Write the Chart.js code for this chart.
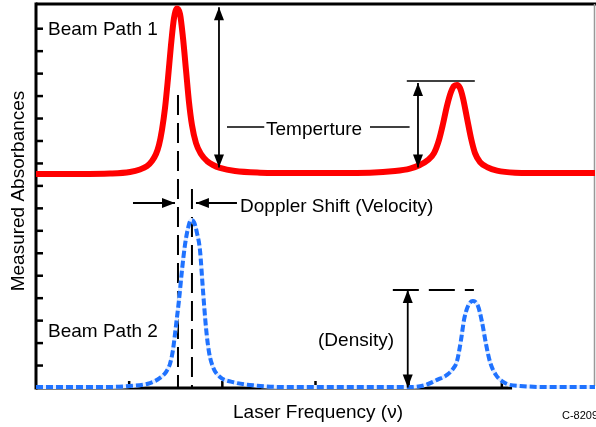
<!DOCTYPE html>
<html lang="en">
<head>
    <meta charset="UTF-8">
    <title>Beam Path Absorbance</title>
    <style>
        body { margin: 0; background: #fff; }
        #graphic { display: block; }
    </style>
    <script src="https://cdn.jsdelivr.net/npm/chart.js"></script>
</head>
<body>
    <canvas id="graphic" width="596" height="427"></canvas>
    <script>
        // laser frequency (tick units) and measured absorbance
        const freq1 = [0.000, 0.472, 0.794, 1.009, 1.116, 1.191, 1.245, 1.288, 1.320, 1.352, 1.385, 1.417, 1.449, 1.481, 1.513, 1.546, 1.578, 1.610, 1.642, 1.674, 1.717, 1.771, 1.835, 1.900, 1.975, 2.136, 2.404, 2.834, 3.585, 3.853, 4.014, 4.121, 4.207, 4.272, 4.325, 4.368, 4.411, 4.454, 4.487, 4.519, 4.551, 4.583, 4.626, 4.669, 4.712, 4.766, 4.841, 4.948, 5.141, 5.517, 6.000];
        const beam1 = [9.53, 9.53, 9.55, 9.62, 9.73, 9.88, 10.11, 10.42, 10.82, 11.49, 12.47, 13.80, 15.27, 16.47, 16.90, 16.65, 15.58, 14.16, 12.73, 11.71, 10.91, 10.42, 10.11, 9.93, 9.80, 9.66, 9.59, 9.57, 9.59, 9.66, 9.77, 9.93, 10.15, 10.46, 11.04, 11.75, 12.56, 13.18, 13.45, 13.49, 13.36, 12.91, 12.02, 11.13, 10.46, 10.06, 9.84, 9.68, 9.59, 9.57, 9.57];

        const freq2 = [0.000, 0.687, 1.009, 1.224, 1.331, 1.395, 1.438, 1.470, 1.503, 1.535, 1.567, 1.599, 1.632, 1.664, 1.696, 1.728, 1.760, 1.792, 1.825, 1.857, 1.900, 1.975, 2.104, 2.351, 2.726, 4.014, 4.175, 4.304, 4.411, 4.476, 4.519, 4.562, 4.594, 4.637, 4.690, 4.744, 4.787, 4.830, 4.873, 4.937, 5.034, 5.195, 5.624, 6.000];
        const beam2 = [0.04, 0.04, 0.09, 0.22, 0.45, 0.71, 1.07, 1.69, 2.80, 3.92, 5.25, 6.37, 7.12, 7.48, 7.39, 6.90, 6.14, 4.36, 2.67, 1.60, 0.93, 0.49, 0.27, 0.11, 0.04, 0.04, 0.13, 0.36, 0.58, 0.85, 1.20, 2.14, 3.03, 3.65, 3.87, 3.65, 2.94, 1.96, 1.16, 0.58, 0.22, 0.09, 0.04, 0.04];

        const xTicks = [1, 2, 3, 4, 5];
        const yTicks = [1, 2, 3, 4, 5, 6, 7, 8, 9, 10, 11, 12, 13, 14, 15, 16];

        const FONT = '19px "Liberation Sans", Arial, sans-serif';

        function arrowHead(ctx, x1, y1, x2, y2) {
            // filled head at (x2, y2) pointing away from (x1, y1)
            const a = Math.atan2(y2 - y1, x2 - x1);
            const len = 13, half = 5;
            ctx.beginPath();
            ctx.moveTo(x2, y2);
            ctx.lineTo(x2 - len * Math.cos(a) + half * Math.sin(a), y2 - len * Math.sin(a) - half * Math.cos(a));
            ctx.lineTo(x2 - len * Math.cos(a) - half * Math.sin(a), y2 - len * Math.sin(a) + half * Math.cos(a));
            ctx.closePath();
            ctx.fill();
        }

        function arrow(ctx, x1, y1, x2, y2, both) {
            ctx.beginPath();
            ctx.moveTo(x1, y1);
            ctx.lineTo(x2, y2);
            ctx.stroke();
            arrowHead(ctx, x1, y1, x2, y2);
            if (both) arrowHead(ctx, x2, y2, x1, y1);
        }

        function segment(ctx, x1, y1, x2, y2) {
            ctx.beginPath();
            ctx.moveTo(x1, y1);
            ctx.lineTo(x2, y2);
            ctx.stroke();
        }

        const framePlugin = {
            id: "frame",
            beforeDatasetsDraw(chart) {
                const ctx = chart.ctx;
                const xs = chart.scales.x, ys = chart.scales.y;
                const area = chart.chartArea;
                ctx.save();
                ctx.strokeStyle = "#000";
                ctx.lineCap = "butt";

                // top border and left axis
                ctx.lineWidth = 3;
                segment(ctx, area.left, area.top, area.right + 1, area.top);
                segment(ctx, area.left, area.top - 1.5, area.left, area.bottom + 1.5);
                // bottom axis stops short of the right edge
                segment(ctx, area.left, area.bottom, xs.getPixelForValue(5.11), area.bottom);
                // light right border
                ctx.strokeStyle = "#999";
                ctx.lineWidth = 1.5;
                segment(ctx, area.right - 0.5, area.top, area.right - 0.5, area.bottom - 2);

                ctx.strokeStyle = "#000";
                ctx.lineWidth = 2.5;
                yTicks.forEach(v => {
                    const y = ys.getPixelForValue(v);
                    segment(ctx, area.left, y, area.left + 7, y);
                });
                xTicks.forEach(v => {
                    const x = xs.getPixelForValue(v);
                    segment(ctx, x, area.bottom, x, area.bottom - 7);
                });

                // dashed markers of the two line centres
                ctx.lineWidth = 2;
                ctx.setLineDash([20, 8]);
                segment(ctx, xs.getPixelForValue(1.524), ys.getPixelForValue(13.05), xs.getPixelForValue(1.524), area.bottom);
                segment(ctx, xs.getPixelForValue(1.674), ys.getPixelForValue(8.86), xs.getPixelForValue(1.674), area.bottom);
                ctx.setLineDash([]);
                ctx.restore();
            },
            afterDatasetsDraw(chart) {
                const ctx = chart.ctx;
                const xs = chart.scales.x, ys = chart.scales.y;
                const X = v => xs.getPixelForValue(v);
                const Y = v => ys.getPixelForValue(v);
                ctx.save();
                ctx.strokeStyle = "#000";
                ctx.fillStyle = "#000";

                // Doppler shift arrows
                ctx.lineWidth = 2;
                arrow(ctx, X(1.041), Y(8.24), X(1.492), Y(8.24), false);
                arrow(ctx, X(2.157), Y(8.24), X(1.717), Y(8.24), false);

                // temperature arrows
                ctx.lineWidth = 1.8;
                arrow(ctx, X(1.964), Y(16.95), X(1.964), Y(9.82), true);
                arrow(ctx, X(4.10), Y(13.58), X(4.10), Y(9.82), true);
                ctx.lineWidth = 1.5;
                segment(ctx, X(3.98), Y(13.67), X(4.71), Y(13.67));
                segment(ctx, X(2.05), Y(11.62), X(2.45), Y(11.62));
                segment(ctx, X(3.585), Y(11.62), X(4.01), Y(11.62));

                // density arrow and dashed level
                ctx.lineWidth = 1.8;
                arrow(ctx, X(3.99), Y(4.36), X(3.99), Y(0.02), true);
                ctx.lineWidth = 2;
                ctx.setLineDash([26, 10]);
                segment(ctx, X(3.83), Y(4.36), X(4.70), Y(4.36));
                ctx.setLineDash([]);

                // labels
                ctx.font = FONT;
                ctx.textBaseline = "alphabetic";
                ctx.textAlign = "left";
                ctx.fillText("Beam Path 1", X(0.129), Y(15.72));
                ctx.fillText("Beam Path 2", X(0.129), Y(2.27));
                ctx.fillText("Temperture", X(2.469), Y(11.26));
                ctx.fillText("Doppler Shift (Velocity)", X(2.19), Y(7.84));
                ctx.fillText("(Density)", X(3.027), Y(1.87));

                // axis titles
                ctx.textAlign = "center";
                ctx.fillText("Laser Frequency (\u03bd)", 318, 418);
                ctx.save();
                ctx.translate(24, 191);
                ctx.rotate(-Math.PI / 2);
                ctx.fillText("Measured Absorbances", 0, 0);
                ctx.restore();

                ctx.textAlign = "left";
                ctx.font = '11px "Liberation Sans", Arial, sans-serif';
                ctx.fillText("C-8209a", 562, 419);
                ctx.restore();
            }
        };

        const ctx = document.getElementById("graphic").getContext("2d");
        const toPoints = (xs, ys) => xs.map((f, i) => ({ x: f, y: ys[i] }));

        // chart.js paints higher indexes first, so the underlay goes last
        new Chart(ctx, {
            type: "line",
            data: {
                datasets: [
                    {
                        label: "Beam Path 1",
                        data: toPoints(freq1, beam1),
                        borderColor: "#ff0000",
                        borderWidth: 6,
                        pointRadius: 0,
                        cubicInterpolationMode: "monotone",
                        fill: false,
                        clip: 8
                    },
                    {
                        label: "Beam Path 2",
                        data: toPoints(freq2, beam2),
                        borderColor: "#1f72ff",
                        borderWidth: 4,
                        borderDash: [7, 3],
                        pointRadius: 0,
                        cubicInterpolationMode: "monotone",
                        fill: false,
                        clip: 8
                    },
                    {
                        // pale underlay so the dash gaps read as a light stripe
                        label: "Beam Path 2 (under)",
                        data: toPoints(freq2, beam2),
                        borderColor: "#e3edff",
                        borderWidth: 4,
                        pointRadius: 0,
                        cubicInterpolationMode: "monotone",
                        fill: false,
                        clip: 8
                    }
                ]
            },
            options: {
                responsive: false,
                animation: false,
                layout: { padding: { left: 36, top: 4, right: 1, bottom: 39 } },
                plugins: {
                    legend: { display: false },
                    tooltip: { enabled: false }
                },
                scales: {
                    x: { type: "linear", min: 0, max: 6, display: false },
                    y: { type: "linear", min: 0, max: 17.1, display: false }
                }
            },
            plugins: [framePlugin]
        });
    </script>
</body>
</html>
